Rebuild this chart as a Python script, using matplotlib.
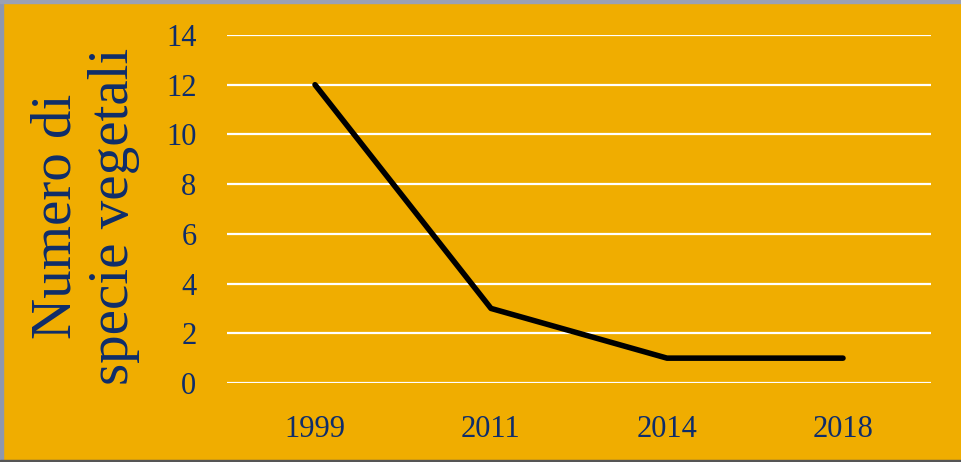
import matplotlib
matplotlib.use("Agg")
import matplotlib.pyplot as plt
from matplotlib.patches import Rectangle

years = ["1999", "2011", "2014", "2018"]
species = [12, 3, 1, 1]
yticks = [0, 2, 4, 6, 8, 10, 12, 14]

bg = "#F0AD00"
navy = "#0E2D6B"

plt.rcParams["font.family"] = ["Liberation Serif", "DejaVu Serif"]

fig = plt.figure(figsize=(9.61, 4.62), dpi=100, facecolor=bg)
ax = fig.add_axes([227/961, 1-383/462, (931-227)/961, (383-35)/462])
ax.set_facecolor(bg)

x = list(range(len(years)))
ax.plot(x, species, color="black", lw=4.0, solid_capstyle="round", solid_joinstyle="round", zorder=3)

ax.set_xlim(-0.5, len(years)-0.5)
ax.set_ylim(0, 14)
ax.set_yticks(yticks)
ax.set_xticks(x)
ax.set_xticklabels(years)
ax.yaxis.grid(True, color="white", lw=1.6)
ax.set_axisbelow(True)
for s in ax.spines.values():
    s.set_visible(False)
ax.tick_params(axis="both", length=0, labelsize=22, labelcolor=navy)
ax.tick_params(axis="y", pad=22)
ax.tick_params(axis="x", pad=23)
ax.set_ylabel("Numero di\nspecie vegetali", fontsize=41, color=navy, linespacing=1.12)
ax.yaxis.set_label_coords(-0.124, 0.48)

# thin frame like the reference
fig.patches.append(Rectangle((0, 0), 3/961, 1, transform=fig.transFigure, color="#8E97AE", zorder=10))
fig.patches.append(Rectangle((0, 1-3/462), 1, 3/462, transform=fig.transFigure, color="#9AA1B5", zorder=10))
fig.patches.append(Rectangle((0, 0), 1, 2/462, transform=fig.transFigure, color="#555555", zorder=10))

fig.savefig("out.png", dpi=100, facecolor=bg)
